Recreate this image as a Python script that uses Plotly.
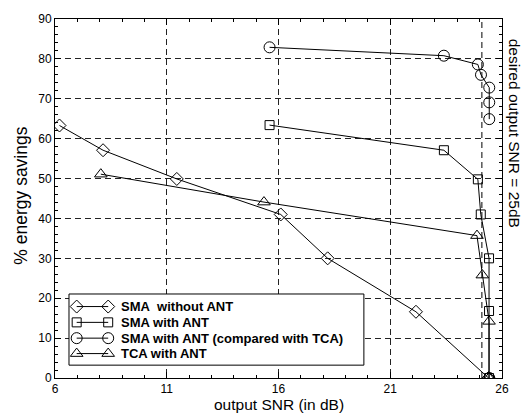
import plotly.graph_objects as go

# Data
sma_wo_x = [6.2, 8.15, 11.45, 16.1, 18.2, 22.15, 25.4]
sma_wo_y = [63.3, 57.1, 49.9, 41.0, 30.0, 16.6, 0.0]

sma_ant_x = [15.6, 23.4, 24.92, 25.05, 25.42, 25.42, 25.42]
sma_ant_y = [63.4, 57.1, 49.8, 41.0, 30.0, 16.8, 0.0]

sma_cmp_x = [15.6, 23.4, 24.92, 25.06, 25.43, 25.43, 25.43, None, 25.43]
sma_cmp_y = [82.9, 80.8, 78.6, 76.0, 72.8, 69.1, 64.9, None, 0.0]

tca_x = [8.05, 15.35, 24.88, 25.12, 25.42, 25.42]
tca_y = [51.1, 44.1, 35.7, 25.8, 14.2, 0.0]

desired_snr = 25.1

names = ["SMA  without ANT", "SMA with ANT", "SMA with ANT (compared with TCA)", "TCA with ANT"]
xs_all = [sma_wo_x, sma_ant_x, sma_cmp_x, tca_x]
ys_all = [sma_wo_y, sma_ant_y, sma_cmp_y, tca_y]
symbols = ["diamond-open", "square-open", "circle-open", "triangle-up-open"]
sizes = [10, 9, 11, 11]

x_ticks = [6, 11, 16, 21, 26]

FONT = "Liberation Sans, Arial, sans-serif"

fig = go.Figure()
for name, xs, ys, sym, sz in zip(names, xs_all, ys_all, symbols, sizes):
    fig.add_trace(go.Scatter(
        x=xs, y=ys, name=name, mode="lines+markers",
        line=dict(color="black", width=1),
        marker=dict(symbol=sym, size=sz, color="black", line=dict(width=1, color="black")),
        connectgaps=False, showlegend=False,
    ))

# custom legend box and marker-line-marker samples on an overlay axis spanning [0,1]
bx0, bx1, by0, by1 = 0.0313, 0.691, 0.0358, 0.234
fig.add_trace(go.Scatter(
    x=[bx0, bx1, bx1, bx0, bx0], y=[by0, by0, by1, by1, by0], mode="lines",
    fill="toself", fillcolor="white", line=dict(color="black", width=1),
    xaxis="x2", yaxis="y2", showlegend=False, hoverinfo="skip",
))
leg_rows = [0.199, 0.155, 0.111, 0.068]
leg_x0, leg_x1, leg_tx = 0.0485, 0.119, 0.1438
for name, sym, sz, ry in zip(names, symbols, sizes, leg_rows):
    fig.add_trace(go.Scatter(
        x=[leg_x0, leg_x1], y=[ry, ry], mode="lines+markers",
        xaxis="x2", yaxis="y2", showlegend=False, hoverinfo="skip",
        line=dict(color="black", width=1),
        marker=dict(symbol=sym, size=sz, color="black", line=dict(width=1, color="black")),
    ))
    fig.add_annotation(text="<b>%s</b>" % name.replace("  ", "&nbsp; "), xref="paper", yref="paper",
                       x=leg_tx, y=ry, xanchor="left", yanchor="middle", showarrow=False,
                       font=dict(family=FONT, size=13, color="black"))

fig.add_shape(type="line", x0=desired_snr, x1=desired_snr, y0=0, y1=90,
              xref="x", yref="y", line=dict(color="black", width=1, dash="6px,4px"))

fig.add_annotation(text="desired output SNR = 25dB", xref="paper", yref="paper",
                   x=1.027, y=0.683, xanchor="center", yanchor="middle", textangle=90, showarrow=False,
                   font=dict(family=FONT, size=15.5, color="black"))
fig.add_annotation(text="output SNR (in dB)", xref="paper", yref="paper",
                   x=0.5, y=-0.074, xanchor="center", yanchor="middle", showarrow=False,
                   font=dict(family=FONT, size=15.5, color="black"))
fig.add_annotation(text="% energy savings", xref="paper", yref="paper",
                   x=-0.076, y=0.508, xanchor="center", yanchor="middle", textangle=-90, showarrow=False,
                   font=dict(family=FONT, size=17.5, color="black"))

axis_common = dict(
    showline=True, linecolor="black", linewidth=1, mirror="ticks",
    ticks="inside", ticklen=6, tickcolor="black",
    showgrid=True, gridcolor="#222", gridwidth=1, griddash="6px,4px",
    zeroline=False,
    tickfont=dict(family=FONT, size=12, color="black"),
)

fig.update_layout(
    width=525, height=414,
    margin=dict(l=55, r=23, t=15, b=36),
    paper_bgcolor="white", plot_bgcolor="white",
    showlegend=False,
    xaxis=dict(range=[6, 26], tickvals=x_ticks,
               minor=dict(dtick=1, tick0=6, ticks="inside", ticklen=3, tickcolor="black", showgrid=False),
               **axis_common),
    yaxis=dict(range=[0, 90], dtick=10,
               minor=dict(dtick=2, tick0=0, ticks="inside", ticklen=3, tickcolor="black", showgrid=False),
               **axis_common),
    xaxis2=dict(overlaying="x", range=[0, 1], visible=False, fixedrange=True),
    yaxis2=dict(overlaying="y", range=[0, 1], visible=False, fixedrange=True),
)

fig.write_html("out.html")
